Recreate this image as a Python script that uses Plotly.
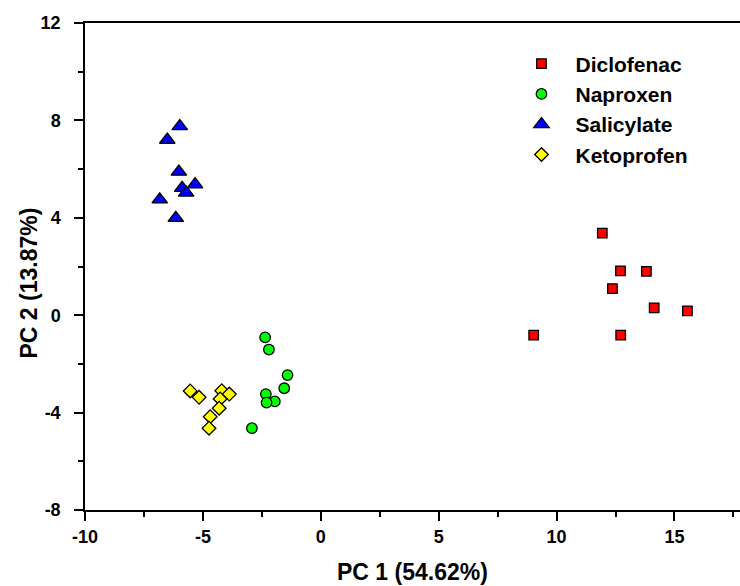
import plotly.graph_objects as go

# Diclofenac
dic_x = [11.94, 12.71, 13.81, 12.37, 14.14, 15.55, 9.03, 12.72]
dic_y = [3.37, 1.82, 1.80, 1.09, 0.30, 0.18, -0.82, -0.82]
# Naproxen
nap_x = [-2.36, -2.20, -1.41, -1.55, -2.33, -1.95, -2.30, -2.92]
nap_y = [-0.91, -1.41, -2.46, -3.00, -3.24, -3.54, -3.59, -4.64]
# Salicylate
sal_x = [-5.98, -6.51, -6.02, -5.33, -5.88, -5.71, -6.83, -6.15]
sal_y = [7.76, 7.20, 5.89, 5.37, 5.22, 5.03, 4.75, 3.99]
# Ketoprofen
ket_x = [-5.54, -5.16, -4.20, -3.88, -4.27, -4.31, -4.69, -4.74]
ket_y = [-3.11, -3.37, -3.10, -3.24, -3.44, -3.82, -4.17, -4.64]

# tick values / labels
x_tickvals = [-10, -5, 0, 5, 10, 15]
x_ticktext = ["-10", "-5", "0", "5", "10", "15"]
y_tickvals = [-8, -4, 0, 4, 8, 12]
y_ticktext = ["-8", "-4", "0", "4", "8", "12"]

x_title = "PC 1 (54.62%)"
y_title = "PC 2 (13.87%)"

FONT = "Arial, 'Liberation Sans', sans-serif"
line = dict(color="black", width=1.3)

fig = go.Figure()
fig.add_trace(go.Scatter(x=dic_x, y=dic_y, mode="markers", name="Diclofenac",
                         marker=dict(symbol="square", size=9.5, color="#FF0000", line=line)))
fig.add_trace(go.Scatter(x=nap_x, y=nap_y, mode="markers", name="Naproxen",
                         marker=dict(symbol="circle", size=10.5, color="#00FF00", line=line)))
fig.add_trace(go.Scatter(x=sal_x, y=sal_y, mode="markers", name="Salicylate",
                         marker=dict(symbol="triangle-up", size=13.5, color="#0000FF", line=line)))
fig.add_trace(go.Scatter(x=ket_x, y=ket_y, mode="markers", name="Ketoprofen",
                         marker=dict(symbol="diamond", size=10.5, color="#FFFF00", line=line)))

axis_common = dict(
    showgrid=False, zeroline=False, showline=True, linecolor="black", linewidth=1.5,
    ticks="outside", ticklen=9, tickwidth=1.5, tickcolor="black", tickmode="array",
    tickfont=dict(family=FONT, size=18, color="black", weight="bold"),
)

fig.update_layout(
    width=740, height=586,
    margin=dict(l=84.5, r=0, t=22.5, b=75.5),
    paper_bgcolor="white", plot_bgcolor="white",
    xaxis=dict(range=[-10, 17.78], tickvals=x_tickvals, ticktext=x_ticktext, mirror=True,
               ticklabelstandoff=1,
               minor=dict(dtick=2.5, tick0=-10, ticks="outside", ticklen=5, tickwidth=1.5, tickcolor="black"),
               **axis_common),
    yaxis=dict(range=[-8, 12], tickvals=y_tickvals, ticktext=y_ticktext, ticklabelstandoff=10,
               minor=dict(dtick=2, tick0=-8, ticks="outside", ticklen=5, tickwidth=1.5, tickcolor="black"),
               **axis_common),
    legend=dict(x=0.645, y=0.958, xanchor="left", yanchor="top",
                font=dict(family=FONT, size=21, color="black", weight="bold"),
                bgcolor="rgba(0,0,0,0)", itemsizing="trace", itemwidth=58),
    showlegend=True,
    annotations=[
        dict(text=x_title, xref="paper", yref="paper", x=0.5, y=0, yshift=-62,
             xanchor="center", yanchor="middle", showarrow=False,
             font=dict(family=FONT, size=23, color="black", weight="bold")),
        dict(text=y_title, xref="paper", yref="paper", x=0, y=0.5, xshift=-57, yshift=-17,
             xanchor="center", yanchor="middle", showarrow=False, textangle=-90,
             font=dict(family=FONT, size=23, color="black", weight="bold")),
    ],
)

fig.write_html("out.html")
